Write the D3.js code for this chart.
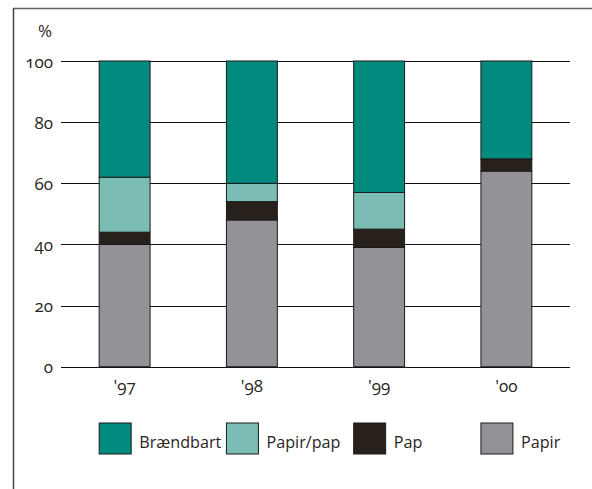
<!DOCTYPE html>
<html><head><meta charset="utf-8">
<script src="https://cdn.jsdelivr.net/npm/d3@7"></script>
<style>
html,body{margin:0;padding:0;background:#fff;}
svg text{font-family:"Open Sans",sans-serif;fill:#2a2522;font-feature-settings:"onum" 1;font-variant-numeric:oldstyle-nums;}
</style></head>
<body><svg id="c" width="592" height="489"></svg>
<script>
const years = ["'97", "'98", "'99", "'00"];
const papir = [40, 48, 39, 64];
const pap = [4, 6, 6, 4];
const papirPap = [18, 6, 12, 0];
const braendbart = [38, 40, 43, 32];
const seriesNames = ["Papir", "Pap", "Papir/pap", "Brændbart"];
const legendOrder = ["Brændbart", "Papir/pap", "Pap", "Papir"];
const colors = {"Brændbart":"#008b7e","Papir/pap":"#7bbdb4","Pap":"#28201b","Papir":"#949296"};
const yTicks = [0, 20, 40, 60, 80, 100];

const rows = years.map((y,i)=>({year:y,"Papir":papir[i],"Pap":pap[i],"Papir/pap":papirPap[i],"Brændbart":braendbart[i]}));
const stacked = d3.stack().keys(seriesNames)(rows);

const svg = d3.select("#c");
// frame
svg.append("line").attr("x1",13).attr("x2",592).attr("y1",8.5).attr("y2",8.5).attr("stroke","#666").attr("stroke-width",1.5);
svg.append("line").attr("x1",13.5).attr("x2",13.5).attr("y1",8).attr("y2",489).attr("stroke","#444").attr("stroke-width",1.5);

const x = d3.scaleBand().domain(years).range([61,570]).paddingInner(0.6).paddingOuter(0.3);
const y = d3.scaleLinear().domain([0,100]).range([366.7,61]);

// gridlines
svg.append("g").selectAll("line").data(yTicks).join("line")
  .attr("x1",61).attr("x2",570).attr("y1",d=>Math.round(y(d))+0.5).attr("y2",d=>Math.round(y(d))+0.5)
  .attr("stroke","#111").attr("stroke-width",1.2);

// y labels
svg.append("g").selectAll("text").data(yTicks).join("text")
  .attr("x",53).attr("y",d=>y(d)+6.5).attr("text-anchor","end").attr("font-size",17).text(d=>d);
svg.append("text").attr("x",52).attr("y",37).attr("text-anchor","end").attr("font-size",17).text("%");

// bars
svg.append("g").selectAll("g").data(stacked).join("g")
  .attr("fill",d=>colors[d.key])
  .selectAll("rect").data(d=>d.filter(s=>s[1]-s[0]>0)).join("rect")
  .attr("x",d=>x(d.data.year)).attr("width",x.bandwidth())
  .attr("y",d=>y(d[1])).attr("height",d=>y(d[0])-y(d[1]))
  .attr("stroke","#1a1a1a").attr("stroke-width",1);

// x labels
svg.append("g").selectAll("text").data(years).join("text")
  .attr("x",d=>x(d)+x.bandwidth()/2).attr("y",392).attr("text-anchor","middle").attr("font-size",17).text(d=>d);

// legend
const lg = svg.append("g").selectAll("g").data(legendOrder).join("g")
  .attr("transform",(d,i)=>`translate(${x(years[i])},423)`);
lg.append("rect").attr("width",32).attr("height",31).attr("fill",d=>colors[d]).attr("stroke","#1a1a1a").attr("stroke-width",1);
lg.append("text").attr("x",40).attr("y",25).attr("font-size",16.2).text(d=>d);
</script></body></html>
